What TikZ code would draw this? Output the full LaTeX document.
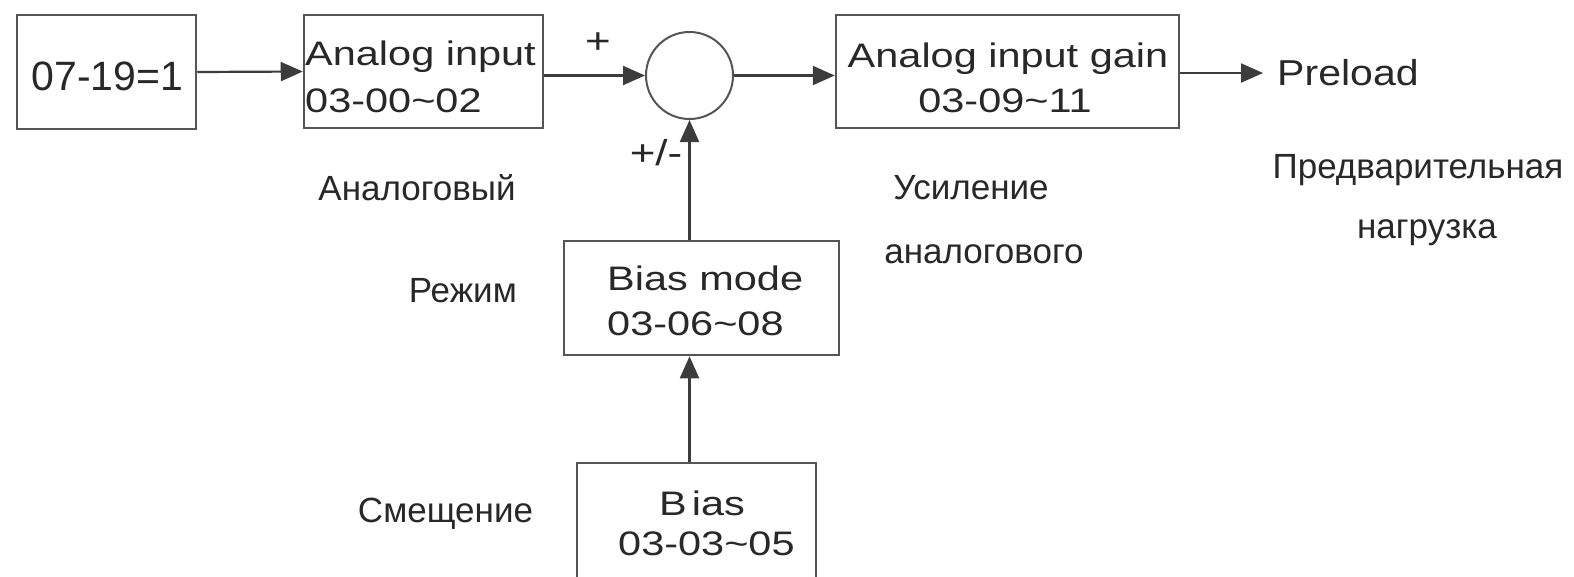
\documentclass[tikz,border=0pt]{standalone}
\usepackage{fontspec}
\setmainfont{Liberation Sans}
\newfontfamily\boxfont[FakeStretch=1.22]{Liberation Sans}
\newfontfamily\prefont[FakeStretch=1.14]{Liberation Sans}
\usetikzlibrary{arrows.meta}
\definecolor{lc}{RGB}{85,85,85}
\definecolor{ac}{RGB}{60,60,60}
\definecolor{tc}{RGB}{40,40,40}
\begin{document}
\begin{tikzpicture}[x=1pt,y=-1pt,
  blk/.style={draw=lc, line width=2.5pt, inner sep=0pt, minimum width=#1},
  arr/.style={draw=ac, line width=2.2pt, -{Triangle[length=22pt,width=19pt]}},
  bt/.style={text=tc, inner sep=0pt, font=\boxfont\fontsize{34}{40}\selectfont},
  lt/.style={text=tc, inner sep=0pt, font=\fontsize{35}{40}\selectfont},
  sg/.style={text=tc, inner sep=0pt, font=\boxfont\fontsize{36}{40}\selectfont},
]
\useasboundingbox[fill=white] (0,0) rectangle (1574,576);
% boxes
\node[blk=179pt, minimum height=114pt] (b1) at (106.5,72) {};
\node[blk=239pt, minimum height=113pt] (b2) at (423.5,71.5) {};
\node[draw=lc, line width=2pt, circle, minimum size=87pt, inner sep=0pt] (sum) at (689.5,75.5) {};
\node[blk=343pt, minimum height=113pt] (b3) at (1007.5,71.5) {};
\node[blk=275pt, minimum height=114pt] (mode) at (701.5,298) {};
\node[blk=239pt, minimum height=150pt] (bias) at (696.5,538) {};
% box texts
\node[text=tc, inner sep=0pt, font=\fontsize{41}{44}\selectfont, anchor=base] (t1) at (107.5,90) {07-19=1};
\node[bt, anchor=base west] (t2a) at (305,65) {Analog input};
\node[bt, anchor=base west] (t2b) at (305,112) {03-00\char`~02};
\node[bt, anchor=base] (t3a) at (1008,67) {Analog input gain};
\node[bt, anchor=base] (t3b) at (1005,112) {03-09\char`~11};
\node[bt, anchor=base west] (tma) at (607,290) {Bias mode};
\node[bt, anchor=base west] (tmb) at (607,335) {03-06\char`~08};
\node[bt, anchor=base west] (tba) at (659,515) {B\kern5pt ias};
\node[bt, anchor=base west] (tbb) at (618,555) {03-03\char`~05};
% output
\node[text=tc, inner ysep=0pt, inner xsep=14pt, font=\prefont\fontsize{36}{40}\selectfont, anchor=base west] (pre) at (1263,85) {Preload};
% signs
\node[sg] (plus) at (598,43) {+};
\node[sg] (pm) at (656,153) {+/-};
% russian labels
\node[lt, anchor=base] (r1) at (417,200) {Аналоговый};
\node[lt, anchor=base east] (r2) at (517,302) {Режим};
\node[lt, anchor=base] (r3) at (445.5,522) {Смещение};
\node[lt, anchor=base] (r4) at (971,199) {Усиление};
\node[lt, anchor=base] (r5) at (984,263) {аналогового};
\node[lt, anchor=base] (r6) at (1418,178) {Предварительная};
\node[lt, anchor=base] (r7) at (1427,238) {нагрузка};
% connectors
\draw[arr] (b1.east) -- (b2.west);
\draw[arr] (b2.east |- sum.west) -- (sum.west);
\draw[arr] (sum.east) -- (sum.east -| b3.west);
\draw[arr] (b3.east |- 0,73) -- (pre.west |- 0,73);
\draw[arr] (mode.north -| sum.south) -- (sum.south);
\draw[arr] (bias.north -| sum.south) -- (mode.south -| sum.south);
\end{tikzpicture}
\end{document}
